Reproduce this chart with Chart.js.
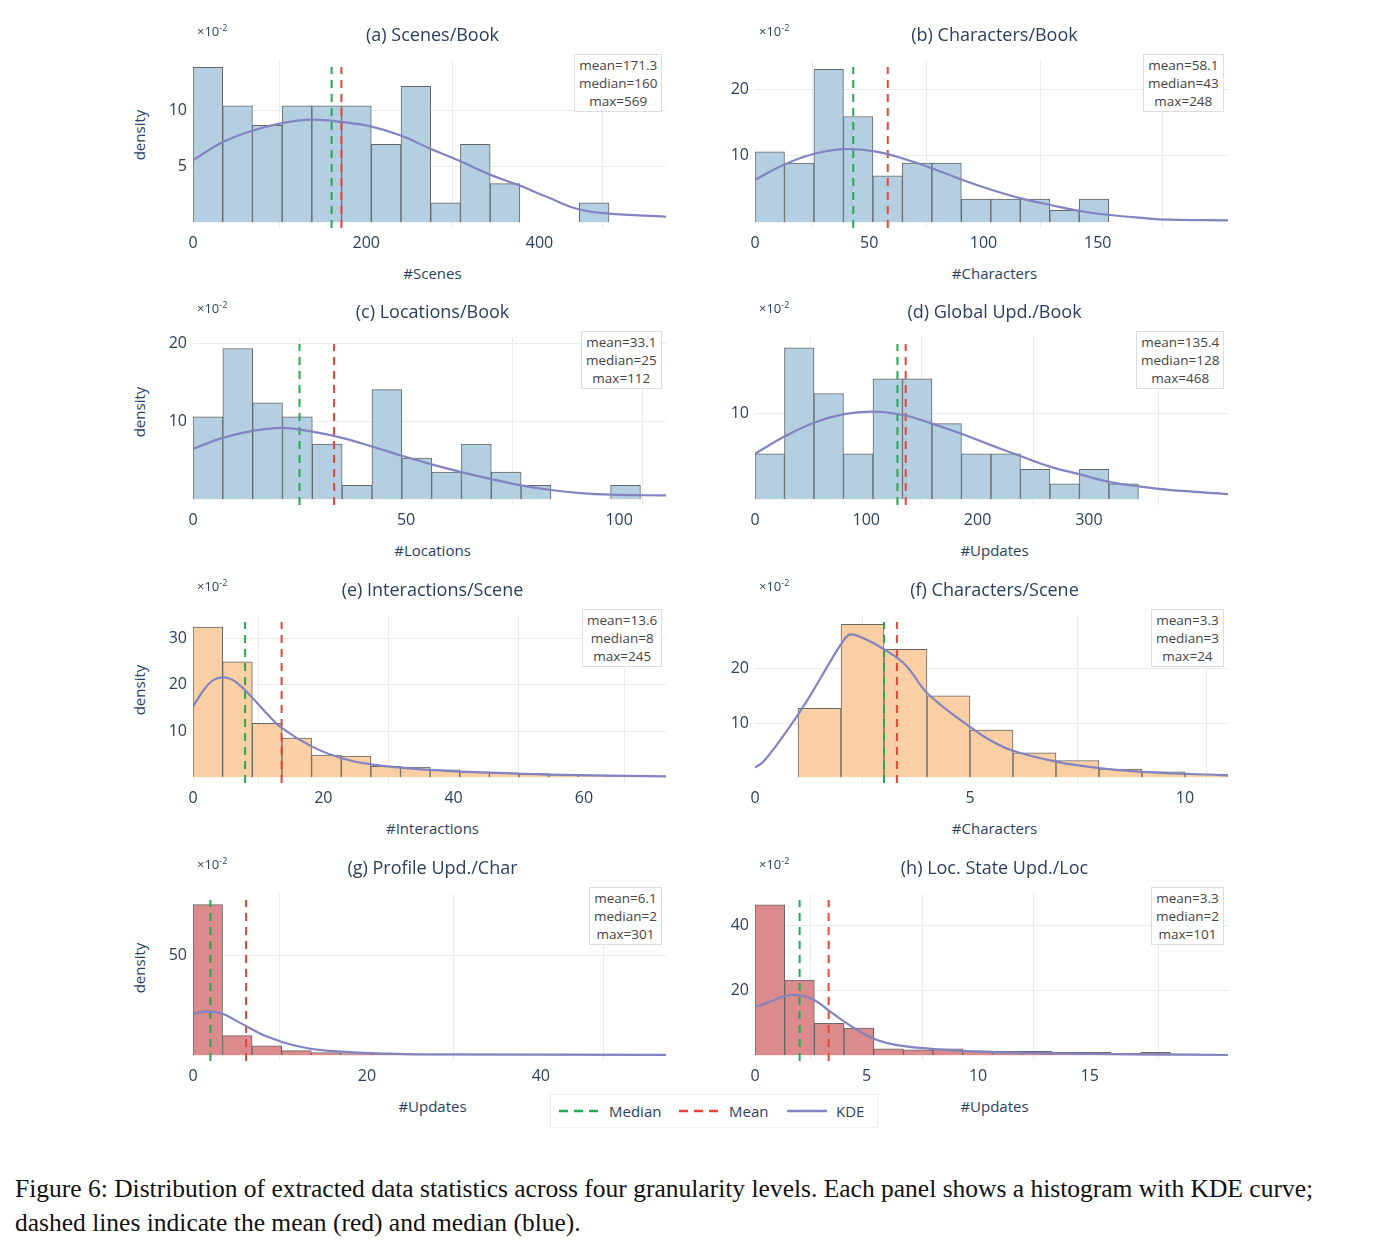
<!DOCTYPE html>
<html><head><meta charset="utf-8">
<script src="https://cdn.jsdelivr.net/npm/chart.js@4"></script>
<style>
body{margin:0;background:#fff;width:1392px;height:1258px;position:relative;font-family:"Open Sans","Noto Sans",sans-serif;color:#2a3f5f;overflow:hidden}
.abs{position:absolute}
.ttl{font-size:18px;white-space:nowrap;transform:translate(-50%,-50%)}
.xt{font-size:15px;white-space:nowrap;transform:translate(-50%,-50%)}
.yt{font-size:15px;white-space:nowrap;transform:translate(-50%,-50%) rotate(-90deg)}
.exp{font-size:13px}
.box{font-size:13.5px;color:#444;background:#fff;border:1px solid #ddd;text-align:center;line-height:18px;padding:1px 4px}
.cap{font-family:"Liberation Serif","DejaVu Serif",serif;font-size:25.5px;color:#111;line-height:34px;left:15px;top:1172px;width:1370px}
</style></head><body>
<script>
// ---- data (density values in units of 1e-2) ----
const aWidth = 34.3, aValues = [13.9,10.45,8.7,10.45,10.45,10.45,7.0,12.2,1.74,7.0,3.47,0,0,1.74];
const aKdeX = [0,34.6,68,103,137,171,205,239,274,308,342,377,411,444,478,546];
const aKdeY = [5.57,7.2,8.2,8.9,9.2,9.0,8.6,7.8,6.6,5.5,4.3,3.3,2.2,1.2,0.8,0.5];
const bWidth = 12.9, bValues = [10.6,8.9,23,15.9,7,8.9,8.9,3.5,3.5,3.5,1.8,3.5];
const bKdeX = [0,12.9,25.9,38.8,51.7,64.7,77.6,90.5,103.4,116.4,129.3,142.2,155.2,168,181,207];
const bKdeY = [6.4,8.7,10.3,11,10.7,9.6,8.1,6.4,4.9,3.6,2.6,1.7,1.1,0.7,0.4,0.3];
const cWidth = 7, cValues = [10.6,19.4,12.4,10.6,7.1,1.8,14.1,5.3,3.5,7.1,3.5,1.8,0,0,1.8];
const cKdeX = [0,7,14,21,28,35,42,49,56,63,70,77,84,91,98,111];
const cKdeY = [6.5,7.9,8.8,9.2,8.7,7.9,6.8,5.6,4.5,3.5,2.6,1.8,1.2,0.8,0.6,0.5];
const dWidth = 26.5, dValues = [5.3,17.6,12.3,5.3,14.0,14.0,8.8,5.3,5.3,3.5,1.8,3.5,1.8];
const dKdeX = [0,26.5,53,80,106,133,159,186,212,239,265,292,319,345,372,425];
const dKdeY = [5.3,7.3,8.9,9.9,10.2,9.8,8.8,7.6,6.3,5,3.8,2.9,2,1.5,1.1,0.6];
const eWidth = 4.55, eValues = [32.5,25,11.7,8.5,4.8,4.6,2.4,2.2,1.6,1.2,1.0,0.8,0.6,0.5,0.4];
const eKdeX = [0,1.8,3.3,5,6.8,9.1,11.4,13.6,18.2,22.7,27.3,36.4,45.5,54.5,72.6];
const eKdeY = [15.3,19.2,21.2,21.6,20.4,17.2,13.7,10.7,6.7,4.2,2.8,1.6,1.0,0.6,0.2];
const fWidth = 1, fValues = [0,12.7,28.2,23.6,15.0,8.7,4.5,3.1,1.5,1.0,0.6];
const fKdeX = [0,0.2,0.7,1.2,1.77,2.0,2.2,2.5,3.0,3.5,4.02,5,5.5,6.0,7.0,8.0,9.0,11];
const fKdeY = [1.8,2.9,8.1,14,21.6,24.5,26.3,25.7,23.6,20.7,15.4,9.3,6.7,4.9,2.9,1.7,1.0,0.35];
const gWidth = 3.4, gValues = [75.5,9.9,4.7,2.4,1.4,0.9,0.6,0.5,0.4,0.3,0.3,0.2,0.2,0.2,0.2];
const gKdeX = [0,1.7,3.4,5.1,8.5,11.9,15.3,22.2,29,54.4];
const gKdeY = [20.8,22,20.8,17,9.4,4.7,2.4,0.9,0.5,0.2];
const hWidth = 1.33, hValues = [46.4,23.2,9.9,8.4,2.0,1.7,2.0,1.4,1.2,1.2,0.9,0.9,0.6,0.9,0.5,0.4];
const hKdeX = [0,0.66,1.33,2.0,2.65,3.3,4.0,5.3,6.6,9.3,13.3,21.2];
const hKdeY = [15,16.5,18.3,18.5,17.1,13.9,10.4,5.2,2.9,1.4,0.6,0.1];
const titles = ["(a) Scenes/Book","(b) Characters/Book","(c) Locations/Book","(d) Global Upd./Book","(e) Interactions/Scene","(f) Characters/Scene","(g) Profile Upd./Char","(h) Loc. State Upd./Loc"];
const xTitles = ["#Scenes","#Characters","#Locations","#Updates","#Interactions","#Characters","#Updates","#Updates"];
const means = [171.3,58.1,33.1,135.4,13.6,3.3,6.1,3.3];
const medians = [160,43,25,128,8,3,2,2];
const maxes = [569,248,112,468,245,24,301,101];
const xMax = [546,207,111,425,72.6,11,54.4,21.2];
const yMax = [14.5,24.3,20.8,18.8,35,29.8,81,49.9];
const xStep = [200,50,50,100,20,5,20,5];
const yStep = [5,10,10,10,10,10,50,20];

const panels = [
 [aWidth,aValues,aKdeX,aKdeY],[bWidth,bValues,bKdeX,bKdeY],[cWidth,cValues,cKdeX,cKdeY],[dWidth,dValues,dKdeX,dKdeY],
 [eWidth,eValues,eKdeX,eKdeY],[fWidth,fValues,fKdeX,fKdeY],[gWidth,gValues,gKdeX,gKdeY],[hWidth,hValues,hKdeX,hKdeY]];
const fills = ['#b4cfe2','#b4cfe2','#b4cfe2','#b4cfe2','#f9cfa3','#f9cfa3','#dc8b8d','#dc8b8d'];
const rowTop = [45,322,600,878];
const plotH = 183, yAxW = 40, xAxH = 30;
const colLeft = [193,755], plotW = 479;

function addDiv(cls, x, y, html){const d=document.createElement('div');d.className='abs '+cls;d.style.left=x+'px';d.style.top=y+'px';d.innerHTML=html;document.body.appendChild(d);return d;}

panels.forEach((p,i)=>{
  const [w,vals,kx,ky]=p;
  const col=i%2,row=Math.floor(i/2);
  const L=colLeft[col],T=rowTop[row];
  const wrap=document.createElement('div');wrap.className='abs';
  wrap.style.left=(L-yAxW)+'px';wrap.style.top=T+'px';
  wrap.style.width=(plotW+yAxW)+'px';wrap.style.height=(plotH+xAxH)+'px';
  const cv=document.createElement('canvas');wrap.appendChild(cv);document.body.appendChild(wrap);
  const ymin=-yMax[i]*0.035;
  const bars=vals.map((v,k)=>({x:w*(k+0.5),y:v}));
  new Chart(cv,{type:'bar',data:{datasets:[
    {type:'bar',data:bars,backgroundColor:fills[i],borderColor:'#666',borderWidth:1,barPercentage:1,categoryPercentage:1,order:3},
    {type:'line',data:kx.map((x,k)=>({x,y:ky[k]})),borderColor:'#8184c0',borderWidth:2.2,pointRadius:0,tension:0.4,order:1},
    {type:'line',data:[{x:medians[i],y:ymin},{x:medians[i],y:yMax[i]*0.96}],borderColor:'#1faa4c',borderWidth:2,borderDash:[8,6],pointRadius:0,order:2},
    {type:'line',data:[{x:means[i],y:ymin},{x:means[i],y:yMax[i]*0.96}],borderColor:'#ea4335',borderWidth:2,borderDash:[8,6],pointRadius:0,order:2}
  ]},options:{responsive:true,maintainAspectRatio:false,animation:false,
    layout:{padding:0},
    plugins:{legend:{display:false},tooltip:{enabled:false}},
    scales:{
      x:{type:'linear',min:0,max:xMax[i],offset:false,border:{display:false},
        grid:{color:'#ebebeb',drawTicks:false},
        ticks:{stepSize:xStep[i],color:'#2a3f5f',font:{size:16,family:'Open Sans'},padding:6,maxRotation:0,autoSkip:false,
          callback:v=>v%xStep[i]===0?v:''},
        afterFit:s=>{s.height=xAxH;}},
      y:{min:ymin,max:yMax[i],border:{display:false},
        grid:{color:c=>c.tick&&c.tick.value>0.01?'#ebebeb':'transparent',drawTicks:false},
        ticks:{stepSize:yStep[i],color:'#2a3f5f',font:{size:16,family:'Open Sans'},padding:6,
          callback:v=>(v>0&&Math.abs(v%yStep[i])<1e-6)?v:''},
        afterBuildTicks:s=>{s.ticks=[];for(let v=yStep[i];v<=s.max;v+=yStep[i])s.ticks.push({value:v});},
        afterFit:s=>{s.width=yAxW;}}
    }}});
  const cx=L+plotW/2;
  addDiv('ttl',cx,T-11,titles[i]);
  addDiv('exp',L+4,T-24,'×10<sup style="font-size:9px">-2</sup>');
  addDiv('xt',cx,T+177+51,xTitles[i]);
  if(col===0) addDiv('yt',139,T+90,'density');
  const b=addDiv('box',0,T+9,'mean='+means[i]+'<br>median='+medians[i]+'<br>max='+maxes[i]);
  b.style.left=(L+plotW-10-b.offsetWidth)+'px';
});
</script>
<div class="abs" style="left:550px;top:1094px;width:326px;height:32px;border:1px solid #eee;font-size:15px;color:#2a3f5f">
 <svg class="abs" style="left:8px;top:14px" width="40" height="4"><line x1="0" y1="2" x2="40" y2="2" stroke="#1faa4c" stroke-width="2.5" stroke-dasharray="9,6"/></svg>
 <span class="abs" style="left:58px;top:6px">Median</span>
 <svg class="abs" style="left:128px;top:14px" width="40" height="4"><line x1="0" y1="2" x2="40" y2="2" stroke="#ea4335" stroke-width="2.5" stroke-dasharray="9,6"/></svg>
 <span class="abs" style="left:178px;top:6px">Mean</span>
 <svg class="abs" style="left:236px;top:14px" width="40" height="4"><line x1="0" y1="2" x2="40" y2="2" stroke="#8184c0" stroke-width="2.5"/></svg>
 <span class="abs" style="left:285px;top:6px">KDE</span>
</div>
<div class="abs cap">Figure 6: Distribution of extracted data statistics across four granularity levels. Each panel shows a histogram with KDE curve; dashed lines indicate the mean (red) and median (blue).</div>
</body></html>
